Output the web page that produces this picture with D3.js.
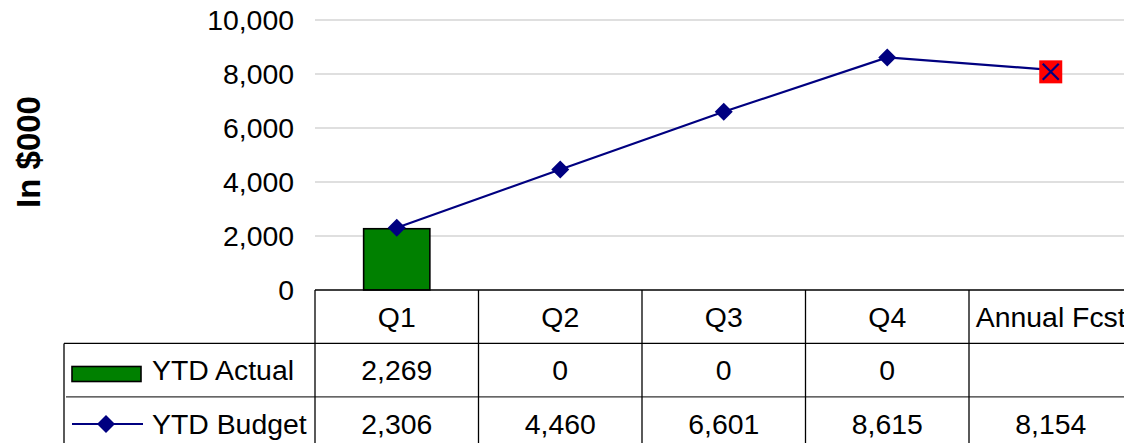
<!DOCTYPE html>
<html><head><meta charset="utf-8">
<script src="https://cdn.jsdelivr.net/npm/d3@7"></script>
<style>
html,body{margin:0;padding:0;background:#fff;overflow:hidden}
svg{display:block;font-family:"Liberation Sans",Arial,sans-serif}
</style></head>
<body>
<svg id="c" width="1124" height="443"></svg>
<script>
const categories = ["Q1","Q2","Q3","Q4","Annual Fcst"];
const ytdActual = [2269, 0, 0, 0, null];
const ytdBudget = [2306, 4460, 6601, 8615, 8154];
const yTicks = [0, 2000, 4000, 6000, 8000, 10000];
const seriesNames = ["YTD Actual", "YTD Budget"];
const yTitle = "In $000";

const svg = d3.select("#c");
const plotL = 315, plotR = 1132.5, plotT = 20, plotB = 290;
const rowH = 53.4;
const x = d3.scaleBand().domain(categories).range([plotL, plotR]).padding(0);
const y = d3.scaleLinear().domain([0, 10000]).range([plotB, plotT]);
const fmt = d3.format(",");
const fs = 28.4;

// gridlines
svg.append("g").selectAll("line").data(yTicks.filter(d => d > 0)).join("line")
  .attr("x1", plotL).attr("x2", 1124).attr("y1", d => y(d)).attr("y2", d => y(d))
  .attr("stroke", "#c0c0c0").attr("stroke-width", 1.2);

// y axis labels
const yAxis = d3.axisLeft(y).tickValues(yTicks).tickFormat(fmt).tickSize(0).tickPadding(0);
const ya = svg.append("g").attr("transform", `translate(294,0)`).call(yAxis);
ya.select(".domain").remove();
ya.selectAll("text").attr("font-size", fs).attr("fill", "#000")
  .attr("font-family", "Liberation Sans, Arial, sans-serif");

// y title
svg.append("text").attr("transform", "translate(40,152) rotate(-90)")
  .attr("text-anchor", "middle").attr("font-size", 33).attr("font-weight", "bold")
  .attr("fill", "#000").text(yTitle);

// bars
const bw = x.bandwidth() * 0.405;
svg.append("g").selectAll("rect").data(categories.map((c, i) => ({c, v: ytdActual[i]})).filter(d => d.v))
  .join("rect")
  .attr("x", d => x(d.c) + x.bandwidth() / 2 - bw / 2)
  .attr("width", bw)
  .attr("y", d => y(d.v)).attr("height", d => y(0) - y(d.v))
  .attr("fill", "#008000").attr("stroke", "#000").attr("stroke-width", 1.6);

// line
const pts = categories.map((c, i) => ({c, v: ytdBudget[i]}));
svg.append("path").datum(pts)
  .attr("d", d3.line().x(d => x(d.c) + x.bandwidth() / 2).y(d => y(d.v)))
  .attr("fill", "none").attr("stroke", "#000080").attr("stroke-width", 2.2);

const diamond = d3.symbol().type(d3.symbolSquare).size(162);
svg.append("g").selectAll("path").data(pts.slice(0, 4)).join("path")
  .attr("d", diamond)
  .attr("transform", d => `translate(${x(d.c) + x.bandwidth() / 2},${y(d.v)}) rotate(45)`)
  .attr("fill", "#000080");

// annual forecast special marker
const last = pts[4];
const lx = x(last.c) + x.bandwidth() / 2, ly = y(last.v) + 2;
const mk = svg.append("g").attr("transform", `translate(${lx},${ly})`);
mk.append("rect").attr("x", -11.5).attr("y", -11.5).attr("width", 23).attr("height", 23).attr("fill", "#ff0000");
mk.append("path").attr("d", "M-8,-8L8,8M-8,8L8,-8").attr("stroke", "#000080").attr("stroke-width", 2.2);

// data table
const tbl = svg.append("g").attr("stroke", "#000").attr("stroke-width", 1.3);
const rows = [plotB, plotB + rowH, plotB + 2 * rowH, plotB + 3 * rowH];
tbl.append("line").attr("x1", plotL).attr("x2", 1124).attr("y1", rows[0]).attr("y2", rows[0]);
tbl.append("line").attr("x1", 64).attr("x2", 1124).attr("y1", rows[1]).attr("y2", rows[1]);
tbl.append("line").attr("x1", 66).attr("x2", 1124).attr("y1", rows[2]).attr("y2", rows[2]).attr("stroke", "#333");
tbl.append("line").attr("x1", 64).attr("x2", 64).attr("y1", rows[1]).attr("y2", 443);
tbl.selectAll(".v").data(categories).join("line").attr("class", "v")
  .attr("x1", d => x(d)).attr("x2", d => x(d)).attr("y1", rows[0]).attr("y2", 443);

const tx = svg.append("g").attr("font-size", fs).attr("fill", "#000").attr("text-anchor", "middle");
tx.selectAll(".h").data(categories).join("text").attr("class", "h")
  .attr("x", d => x(d) + x.bandwidth() / 2)
  .attr("y", rows[0] + rowH / 2).attr("dy", "0.36em").text(d => d);
tx.selectAll(".a").data(categories.map((c, i) => ({c, v: ytdActual[i]})).filter(d => d.v !== null)).join("text").attr("class", "a")
  .attr("x", d => x(d.c) + x.bandwidth() / 2).attr("y", rows[1] + rowH / 2).attr("dy", "0.36em").text(d => fmt(d.v));
tx.selectAll(".b").data(pts).join("text").attr("class", "b")
  .attr("x", d => x(d.c) + x.bandwidth() / 2).attr("y", rows[2] + rowH / 2).attr("dy", "0.36em").text(d => fmt(d.v));

// legend keys
const lg = svg.append("g");
lg.append("rect").attr("x", 72).attr("y", 366.5).attr("width", 69).attr("height", 15)
  .attr("fill", "#008000").attr("stroke", "#000").attr("stroke-width", 1.6);
lg.append("line").attr("x1", 72).attr("x2", 143).attr("y1", 424).attr("y2", 424)
  .attr("stroke", "#000080").attr("stroke-width", 2.2);
lg.append("path").attr("d", diamond).attr("transform", "translate(106,424) rotate(45)").attr("fill", "#000080");
lg.selectAll("text").data(seriesNames).join("text")
  .attr("x", 152).attr("y", (d, i) => rows[1 + i] + rowH / 2).attr("dy", "0.36em")
  .attr("font-size", fs).attr("fill", "#000").text(d => d);
</script>
</body></html>
